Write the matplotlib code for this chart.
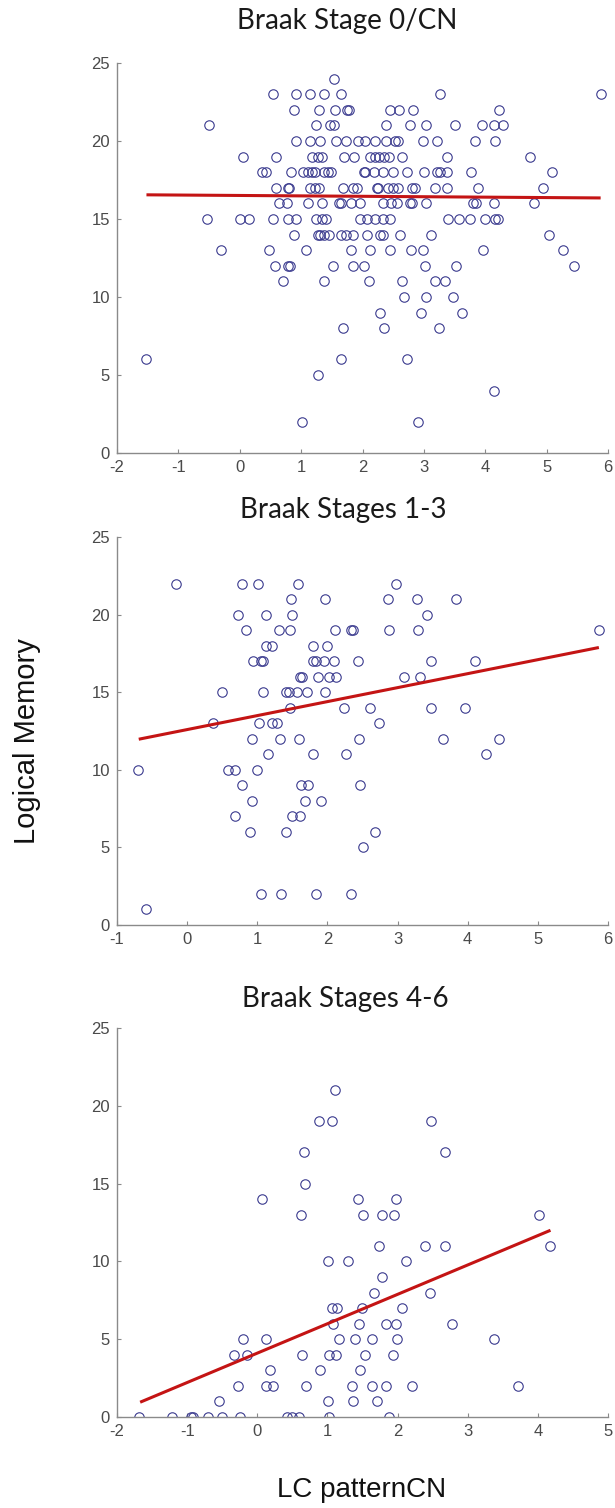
import matplotlib
matplotlib.use("Agg")
import matplotlib.pyplot as plt

plt.rcParams["axes.unicode_minus"] = False

# ---------------- data (score -> LC patternCN values) ----------------
stage0_points = {
    24: [1.53],
    23: [0.54, 0.92, 1.14, 1.37, 1.65, 3.26, 5.88],
    22: [0.88, 1.29, 1.56, 1.74, 1.78, 2.45, 2.59, 2.83, 4.22],
    21: [-0.50, 1.24, 1.47, 1.54, 2.38, 2.77, 3.03, 3.50, 3.95, 4.14, 4.29],
    20: [0.92, 1.14, 1.30, 1.57, 1.73, 1.92, 2.04, 2.21, 2.38, 2.53, 2.58, 2.99, 3.21, 3.84, 4.16],
    19: [0.05, 0.59, 1.17, 1.27, 1.34, 1.70, 1.86, 2.13, 2.20, 2.27, 2.35, 2.43, 2.64, 3.37, 4.73],
    18: [0.36, 0.43, 0.83, 1.03, 1.11, 1.17, 1.22, 1.38, 1.43, 1.49, 2.02, 2.04, 2.18, 2.34,
         2.50, 2.72, 3.00, 3.21, 3.26, 3.37, 3.76, 5.09],
    17: [0.59, 0.78, 0.81, 1.14, 1.22, 1.29, 1.68, 1.85, 1.91, 2.23, 2.26, 2.42, 2.50, 2.58,
         2.80, 2.85, 3.18, 3.37, 3.88, 4.94],
    16: [0.64, 0.77, 1.12, 1.34, 1.61, 1.65, 1.81, 1.96, 2.34, 2.46, 2.56, 2.77, 2.80, 3.04,
         3.80, 3.85, 4.14, 4.80],
    15: [-0.54, 0.00, 0.15, 0.54, 0.78, 0.92, 1.24, 1.34, 1.41, 1.96, 2.07, 2.21, 2.34, 2.45,
         3.39, 3.58, 3.75, 3.99, 4.16, 4.21],
    14: [0.89, 1.27, 1.31, 1.37, 1.46, 1.65, 1.73, 1.85, 2.07, 2.29, 2.34, 2.61, 3.12, 5.04],
    13: [-0.31, 0.47, 1.08, 1.82, 2.12, 2.44, 2.79, 2.98, 3.96, 5.26],
    12: [0.58, 0.78, 0.82, 1.52, 1.85, 2.02, 3.02, 3.53, 5.45],
    11: [0.71, 1.37, 2.11, 2.64, 3.18, 3.34],
    10: [2.68, 3.03, 3.47],
    9: [2.29, 2.95, 3.62],
    8: [1.68, 2.35, 3.25],
    6: [-1.52, 1.65, 2.72],
    5: [1.27],
    4: [4.15],
    2: [1.02, 2.91],
}

stage13_points = {
    22: [-0.16, 0.78, 1.01, 1.58, 2.98],
    21: [1.48, 1.96, 2.87, 3.28, 3.83],
    20: [0.73, 1.12, 1.50, 3.42],
    19: [0.84, 1.31, 1.46, 2.11, 2.33, 2.36, 2.88, 3.29, 5.87],
    18: [1.12, 1.21, 1.80, 2.00],
    17: [0.94, 1.05, 1.08, 1.80, 1.83, 1.95, 2.09, 2.43, 3.47, 4.10],
    16: [1.61, 1.64, 1.86, 2.02, 2.12, 3.09, 3.32],
    15: [0.49, 1.08, 1.41, 1.45, 1.56, 1.71, 1.96],
    14: [1.46, 2.23, 2.61, 3.48, 3.96],
    13: [0.37, 1.03, 1.21, 1.28, 2.74],
    12: [0.93, 1.33, 1.60, 2.45, 3.65, 4.45],
    11: [1.15, 1.79, 2.27, 4.26],
    10: [-0.70, 0.58, 0.68, 1.00],
    9: [0.78, 1.62, 1.73, 2.47],
    8: [0.93, 1.68, 1.91],
    7: [0.68, 1.50, 1.61],
    6: [0.89, 1.41, 2.68],
    5: [2.50],
    2: [1.06, 1.34, 1.84, 2.33],
    1: [-0.59],
}

stage46_points = {
    21: [1.11],
    19: [0.88, 1.07, 2.47],
    17: [0.67, 2.67],
    15: [0.68],
    14: [0.07, 1.43, 1.98],
    13: [0.63, 1.51, 1.78, 1.95, 4.01],
    11: [1.73, 2.39, 2.68, 4.18],
    10: [1.01, 1.29, 2.12],
    9: [1.78],
    8: [1.67, 2.46],
    7: [1.07, 1.14, 1.49, 2.07],
    6: [1.08, 1.45, 1.84, 1.98, 2.78],
    5: [-0.20, 0.13, 1.17, 1.39, 1.64, 1.99, 3.37],
    4: [-0.33, -0.15, 0.64, 1.02, 1.12, 1.53, 1.93],
    3: [0.18, 0.90, 1.46],
    2: [-0.27, 0.13, 0.22, 0.69, 1.35, 1.63, 1.83, 2.21, 3.72],
    1: [-0.54, 1.01, 1.37, 1.71],
    0: [-1.68, -1.21, -0.95, -0.91, -0.70, -0.50, -0.24, 0.42, 0.49, 0.60, 1.02, 1.88],
}

# fitted regression lines (x ends, y ends)
stage0_fit_x = [-1.52, 5.88]
stage0_fit_y = [16.55, 16.35]
stage13_fit_x = [-0.69, 5.87]
stage13_fit_y = [11.97, 17.88]
stage46_fit_x = [-1.67, 4.18]
stage46_fit_y = [0.95, 12.0]

titles = ["Braak Stage 0/CN", "Braak Stages 1-3", "Braak Stages 4-6"]
xlims = [(-2, 6), (-1, 6), (-2, 5)]
yticks = [0, 5, 10, 15, 20, 25]
ylabel = "Logical Memory"
xlabel = "LC patternCN"

# ---------------- layout ----------------
W, H = 615, 1508
fig = plt.figure(figsize=(W / 100, H / 100), dpi=100)

def px_axes(left, top, right, bottom):
    return fig.add_axes([left / W, 1 - bottom / H, (right - left) / W, (bottom - top) / H])

axes_px = [(117, 63, 608, 453), (117, 537, 608, 925), (117, 1028, 608, 1417)]
title_px = [(347, 29), (343, 518), (345, 1007)]

datasets = [stage0_points, stage13_points, stage46_points]
fits = [(stage0_fit_x, stage0_fit_y), (stage13_fit_x, stage13_fit_y), (stage46_fit_x, stage46_fit_y)]

marker_col = "#3a3a8e"
line_col = "#c41414"
axis_col = "#8a8a8a"
tick_col = "#4a4a4a"

for i in range(3):
    ax = px_axes(*axes_px[i])
    pts = datasets[i]
    xs, ys = [], []
    for score, vals in pts.items():
        for v in vals:
            xs.append(v)
            ys.append(score)
    ax.plot(xs, ys, linestyle="none", marker="o", markersize=6.8,
            markerfacecolor="none", markeredgecolor=marker_col, markeredgewidth=0.8,
            zorder=2)
    fx, fy = fits[i]
    ax.plot(fx, fy, color=line_col, linewidth=2.2, zorder=3, solid_capstyle="butt")
    ax.set_xlim(*xlims[i])
    ax.set_ylim(0, 25)
    ax.set_xticks(list(range(xlims[i][0], xlims[i][1] + 1)))
    ax.set_yticks(yticks)
    for s in ["top", "right"]:
        ax.spines[s].set_visible(False)
    for s in ["left", "bottom"]:
        ax.spines[s].set_color(axis_col)
        ax.spines[s].set_linewidth(1.0)
    ax.tick_params(direction="in", length=3, width=0.8, color=axis_col,
                   labelcolor=tick_col, labelsize=12, pad=5)
    for lab in ax.get_xticklabels() + ax.get_yticklabels():
        lab.set_fontfamily("Liberation Sans")
    tx, ty = title_px[i]
    fig.text(tx / W, 1 - ty / H, titles[i], ha="center", va="baseline",
             fontsize=20, family="Lato", color="#1a1a1a")

fig.text(27 / W, 1 - 741 / H, ylabel, rotation=90, ha="center", va="center",
         fontsize=21, family="Liberation Sans", color="#111111")
fig.text(362 / W, 1 - 1497 / H, xlabel, ha="center", va="baseline",
         fontsize=20, family="Liberation Sans", color="#111111")

fig.savefig("out.png", dpi=100, facecolor="white")
